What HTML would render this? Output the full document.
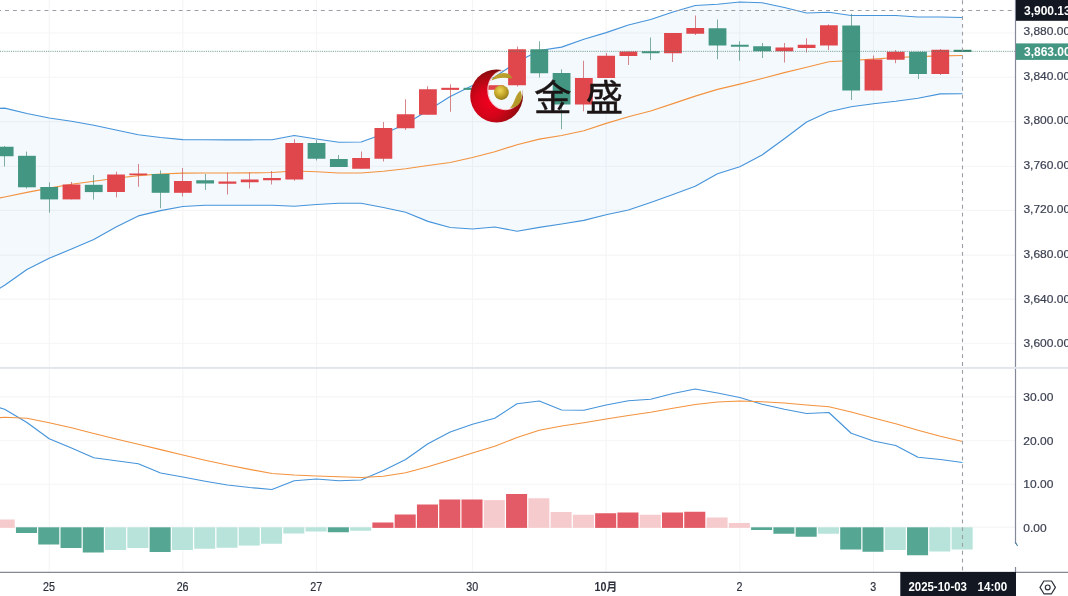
<!DOCTYPE html>
<html lang="zh"><head><meta charset="utf-8"><title>chart</title>
<style>
html,body{margin:0;padding:0;background:#fff;}
body{width:1068px;height:596px;overflow:hidden;position:relative;font-family:"Liberation Sans","Noto Sans CJK SC",sans-serif;}
svg{position:absolute;left:0;top:0;display:block}
text{font-family:"Liberation Sans","Noto Sans CJK SC",sans-serif;}
</style></head><body>
<svg width="1068" height="596" viewBox="0 0 1068 596">
<defs>
<radialGradient id="rg" cx="0.36" cy="0.62" r="0.62"><stop offset="0" stop-color="#f0001e"/><stop offset="0.45" stop-color="#d4041a"/><stop offset="0.85" stop-color="#9c0b10"/><stop offset="1" stop-color="#7d0a0c"/></radialGradient>
<radialGradient id="gg" cx="0.42" cy="0.36" r="0.65"><stop offset="0" stop-color="#ecd75a"/><stop offset="0.5" stop-color="#c9ab2e"/><stop offset="1" stop-color="#947a18"/></radialGradient>
<linearGradient id="gs" x1="0" y1="0" x2="1" y2="1"><stop offset="0" stop-color="#c8ab34"/><stop offset="1" stop-color="#a88f22"/></linearGradient>
<mask id="cm"><rect x="460" y="60" width="80" height="70" fill="#fff"/><ellipse cx="505.3" cy="90" rx="17.2" ry="19.4" fill="#000"/></mask>
<clipPath id="oc"><circle cx="496.6" cy="96" r="26.4"/></clipPath>
<clipPath id="plot"><rect x="0" y="0" width="1015" height="572"/></clipPath>
</defs>
<rect width="1068" height="596" fill="#fff"/>

<g stroke="#f5f5f6" stroke-width="1.1" fill="none">
<line x1="49.2" y1="0" x2="49.2" y2="572"/>
<line x1="182.9" y1="0" x2="182.9" y2="572"/>
<line x1="316.5" y1="0" x2="316.5" y2="572"/>
<line x1="472.5" y1="0" x2="472.5" y2="572"/>
<line x1="606.1" y1="0" x2="606.1" y2="572"/>
<line x1="739.8" y1="0" x2="739.8" y2="572"/>
<line x1="873.5" y1="0" x2="873.5" y2="572"/>
<line x1="0" y1="33" x2="1015" y2="33"/>
<line x1="0" y1="77.3" x2="1015" y2="77.3"/>
<line x1="0" y1="121.6" x2="1015" y2="121.6"/>
<line x1="0" y1="166.3" x2="1015" y2="166.3"/>
<line x1="0" y1="210.4" x2="1015" y2="210.4"/>
<line x1="0" y1="255.1" x2="1015" y2="255.1"/>
<line x1="0" y1="299.1" x2="1015" y2="299.1"/>
<line x1="0" y1="343.2" x2="1015" y2="343.2"/>
<line x1="0" y1="396.9" x2="1015" y2="396.9"/>
<line x1="0" y1="440.7" x2="1015" y2="440.7"/>
<line x1="0" y1="484.2" x2="1015" y2="484.2"/>
</g>
<line x1="0" y1="527.1" x2="1015" y2="527.1" stroke="#f5f5f6" stroke-width="1.1"/>
<polygon points="-17.63,109.30 4.65,108.10 26.93,113.50 49.20,118.00 71.48,121.25 93.76,125.25 116.04,130.00 138.31,134.75 160.59,137.50 182.87,139.60 205.14,139.80 227.42,139.80 249.70,139.80 271.97,139.70 294.25,135.50 316.53,139.00 338.81,142.25 361.08,142.00 383.36,134.00 405.64,124.00 427.91,110.50 450.19,96.50 472.47,85.50 494.74,77.00 517.02,62.00 539.30,50.50 561.58,47.10 583.85,39.20 606.13,32.60 628.41,25.00 650.68,19.50 672.96,12.00 695.24,5.50 717.51,4.25 739.79,2.00 762.07,2.75 784.35,7.50 806.62,13.00 828.90,12.25 851.18,15.50 873.45,15.50 895.73,15.50 918.01,17.00 940.28,17.00 962.56,17.50 962.56,93.70 940.28,93.90 918.01,98.25 895.73,101.25 873.45,103.75 851.18,106.75 828.90,111.75 806.62,122.00 784.35,138.75 762.07,155.00 739.79,166.75 717.51,173.75 695.24,186.25 672.96,194.50 650.68,202.50 628.41,210.00 606.13,214.70 583.85,220.40 561.58,224.00 539.30,227.40 517.02,231.25 494.74,227.00 472.47,229.00 450.19,227.50 427.91,221.40 405.64,212.30 383.36,207.50 361.08,203.25 338.81,203.25 316.53,204.50 294.25,206.25 271.97,205.25 249.70,205.25 227.42,205.25 205.14,205.25 182.87,206.50 160.59,210.60 138.31,215.90 116.04,227.10 93.76,239.50 71.48,249.00 49.20,258.30 26.93,269.50 4.65,285.20 -17.63,299.00" fill="#2f8fe6" fill-opacity="0.055"/>
<polyline points="-17.63,109.30 4.65,108.10 26.93,113.50 49.20,118.00 71.48,121.25 93.76,125.25 116.04,130.00 138.31,134.75 160.59,137.50 182.87,139.60 205.14,139.80 227.42,139.80 249.70,139.80 271.97,139.70 294.25,135.50 316.53,139.00 338.81,142.25 361.08,142.00 383.36,134.00 405.64,124.00 427.91,110.50 450.19,96.50 472.47,85.50 494.74,77.00 517.02,62.00 539.30,50.50 561.58,47.10 583.85,39.20 606.13,32.60 628.41,25.00 650.68,19.50 672.96,12.00 695.24,5.50 717.51,4.25 739.79,2.00 762.07,2.75 784.35,7.50 806.62,13.00 828.90,12.25 851.18,15.50 873.45,15.50 895.73,15.50 918.01,17.00 940.28,17.00 962.56,17.50" fill="none" stroke="#4694da" stroke-width="1.15" stroke-linejoin="round"/>
<polyline points="-17.63,299.00 4.65,285.20 26.93,269.50 49.20,258.30 71.48,249.00 93.76,239.50 116.04,227.10 138.31,215.90 160.59,210.60 182.87,206.50 205.14,205.25 227.42,205.25 249.70,205.25 271.97,205.25 294.25,206.25 316.53,204.50 338.81,203.25 361.08,203.25 383.36,207.50 405.64,212.30 427.91,221.40 450.19,227.50 472.47,229.00 494.74,227.00 517.02,231.25 539.30,227.40 561.58,224.00 583.85,220.40 606.13,214.70 628.41,210.00 650.68,202.50 672.96,194.50 695.24,186.25 717.51,173.75 739.79,166.75 762.07,155.00 784.35,138.75 806.62,122.00 828.90,111.75 851.18,106.75 873.45,103.75 895.73,101.25 918.01,98.25 940.28,93.90 962.56,93.70" fill="none" stroke="#4694da" stroke-width="1.15" stroke-linejoin="round"/>
<polyline points="-17.63,201.50 4.65,197.00 26.93,192.40 49.20,188.10 71.48,184.30 93.76,181.30 116.04,178.30 138.31,175.60 160.59,174.00 182.87,173.10 205.14,172.95 227.42,172.95 249.70,172.90 271.97,172.50 294.25,171.00 316.53,171.75 338.81,173.00 361.08,173.00 383.36,171.25 405.64,168.75 427.91,165.50 450.19,162.50 472.47,157.50 494.74,151.75 517.02,144.75 539.30,139.10 561.58,135.50 583.85,130.75 606.13,123.40 628.41,116.75 650.68,111.00 672.96,103.60 695.24,96.10 717.51,89.40 739.79,84.10 762.07,78.50 784.35,72.60 806.62,67.20 828.90,61.75 851.18,60.50 873.45,59.10 895.73,57.50 918.01,56.60 940.28,55.90 962.56,55.50" fill="none" stroke="#f3933f" stroke-width="1.15" stroke-linejoin="round"/>
<line x1="4.5" y1="146" x2="4.5" y2="166.5" stroke="#4d8f79" stroke-width="1" stroke-opacity="0.7"/>
<rect x="-4.25" y="146.75" width="17.8" height="9.50" fill="#439782"/>
<line x1="26.5" y1="151.6" x2="26.5" y2="188.5" stroke="#4d8f79" stroke-width="1" stroke-opacity="0.7"/>
<rect x="18.03" y="155.8" width="17.8" height="31.50" fill="#439782"/>
<line x1="49.5" y1="182.3" x2="49.5" y2="212.7" stroke="#4d8f79" stroke-width="1" stroke-opacity="0.7"/>
<rect x="40.30" y="187" width="17.8" height="12.40" fill="#439782"/>
<line x1="71.5" y1="182" x2="71.5" y2="199.4" stroke="#c9525a" stroke-width="1" stroke-opacity="0.7"/>
<rect x="62.58" y="184.5" width="17.8" height="14.90" fill="#e0474c"/>
<line x1="93.5" y1="175" x2="93.5" y2="199.6" stroke="#4d8f79" stroke-width="1" stroke-opacity="0.7"/>
<rect x="84.86" y="184.8" width="17.8" height="7.30" fill="#439782"/>
<line x1="116.5" y1="171.7" x2="116.5" y2="197.4" stroke="#c9525a" stroke-width="1" stroke-opacity="0.7"/>
<rect x="107.14" y="174.5" width="17.8" height="17.50" fill="#e0474c"/>
<line x1="138.5" y1="163.9" x2="138.5" y2="186.8" stroke="#c9525a" stroke-width="1" stroke-opacity="0.7"/>
<rect x="129.41" y="173.5" width="17.8" height="1.70" fill="#e0474c"/>
<line x1="160.5" y1="170.4" x2="160.5" y2="208.2" stroke="#4d8f79" stroke-width="1" stroke-opacity="0.7"/>
<rect x="151.69" y="174" width="17.8" height="18.80" fill="#439782"/>
<line x1="182.5" y1="168" x2="182.5" y2="196.4" stroke="#c9525a" stroke-width="1" stroke-opacity="0.7"/>
<rect x="173.97" y="181" width="17.8" height="11.80" fill="#e0474c"/>
<line x1="205.5" y1="174" x2="205.5" y2="190" stroke="#4d8f79" stroke-width="1" stroke-opacity="0.7"/>
<rect x="196.24" y="180.25" width="17.8" height="3.25" fill="#439782"/>
<line x1="227.5" y1="172.5" x2="227.5" y2="194.5" stroke="#c9525a" stroke-width="1" stroke-opacity="0.7"/>
<rect x="218.52" y="181.5" width="17.8" height="2.25" fill="#e0474c"/>
<line x1="249.5" y1="172.5" x2="249.5" y2="188.5" stroke="#c9525a" stroke-width="1" stroke-opacity="0.7"/>
<rect x="240.80" y="179.5" width="17.8" height="2.75" fill="#e0474c"/>
<line x1="271.5" y1="171" x2="271.5" y2="184.5" stroke="#c9525a" stroke-width="1" stroke-opacity="0.7"/>
<rect x="263.07" y="178" width="17.8" height="2.25" fill="#e0474c"/>
<line x1="294.5" y1="139.25" x2="294.5" y2="180.75" stroke="#c9525a" stroke-width="1" stroke-opacity="0.7"/>
<rect x="285.35" y="143" width="17.8" height="36.50" fill="#e0474c"/>
<line x1="316.5" y1="140" x2="316.5" y2="160.5" stroke="#4d8f79" stroke-width="1" stroke-opacity="0.7"/>
<rect x="307.63" y="143" width="17.8" height="15.75" fill="#439782"/>
<line x1="338.5" y1="155" x2="338.5" y2="167" stroke="#4d8f79" stroke-width="1" stroke-opacity="0.7"/>
<rect x="329.91" y="159" width="17.8" height="8.00" fill="#439782"/>
<line x1="361.5" y1="151.5" x2="361.5" y2="168.75" stroke="#c9525a" stroke-width="1" stroke-opacity="0.7"/>
<rect x="352.18" y="158" width="17.8" height="10.75" fill="#e0474c"/>
<line x1="383.5" y1="122" x2="383.5" y2="161.5" stroke="#c9525a" stroke-width="1" stroke-opacity="0.7"/>
<rect x="374.46" y="128" width="17.8" height="30.75" fill="#e0474c"/>
<line x1="405.5" y1="99.25" x2="405.5" y2="130" stroke="#c9525a" stroke-width="1" stroke-opacity="0.7"/>
<rect x="396.74" y="114.25" width="17.8" height="14.00" fill="#e0474c"/>
<line x1="427.5" y1="86.25" x2="427.5" y2="114.75" stroke="#c9525a" stroke-width="1" stroke-opacity="0.7"/>
<rect x="419.01" y="89.25" width="17.8" height="25.50" fill="#e0474c"/>
<line x1="450.5" y1="84.25" x2="450.5" y2="111.75" stroke="#c9525a" stroke-width="1" stroke-opacity="0.7"/>
<rect x="441.29" y="87.8" width="17.8" height="2.10" fill="#e0474c"/>
<rect x="463.57" y="87.8" width="17.8" height="2.10" fill="#439782"/>
<rect x="485.84" y="85.2" width="17.8" height="4.60" fill="#e0474c"/>
<line x1="517.5" y1="46.5" x2="517.5" y2="86.5" stroke="#c9525a" stroke-width="1" stroke-opacity="0.7"/>
<rect x="508.12" y="49.25" width="17.8" height="36.00" fill="#e0474c"/>
<line x1="539.5" y1="41.25" x2="539.5" y2="77.5" stroke="#4d8f79" stroke-width="1" stroke-opacity="0.7"/>
<rect x="530.40" y="49.25" width="17.8" height="24.00" fill="#439782"/>
<line x1="561.5" y1="69.25" x2="561.5" y2="129.25" stroke="#4d8f79" stroke-width="1" stroke-opacity="0.7"/>
<rect x="552.68" y="73" width="17.8" height="31.50" fill="#439782"/>
<line x1="583.5" y1="60.75" x2="583.5" y2="111.25" stroke="#c9525a" stroke-width="1" stroke-opacity="0.7"/>
<rect x="574.95" y="78" width="17.8" height="26.50" fill="#e0474c"/>
<line x1="606.5" y1="53" x2="606.5" y2="78" stroke="#c9525a" stroke-width="1" stroke-opacity="0.7"/>
<rect x="597.23" y="55.75" width="17.8" height="22.25" fill="#e0474c"/>
<line x1="628.5" y1="51.5" x2="628.5" y2="65" stroke="#c9525a" stroke-width="1" stroke-opacity="0.7"/>
<rect x="619.51" y="51.5" width="17.8" height="4.50" fill="#e0474c"/>
<line x1="650.5" y1="37.5" x2="650.5" y2="60" stroke="#4d8f79" stroke-width="1" stroke-opacity="0.7"/>
<rect x="641.78" y="51.25" width="17.8" height="2.00" fill="#439782"/>
<line x1="672.5" y1="33" x2="672.5" y2="62" stroke="#c9525a" stroke-width="1" stroke-opacity="0.7"/>
<rect x="664.06" y="33" width="17.8" height="20.25" fill="#e0474c"/>
<line x1="695.5" y1="15.5" x2="695.5" y2="35" stroke="#c9525a" stroke-width="1" stroke-opacity="0.7"/>
<rect x="686.34" y="28" width="17.8" height="5.75" fill="#e0474c"/>
<line x1="717.5" y1="19.5" x2="717.5" y2="59.25" stroke="#4d8f79" stroke-width="1" stroke-opacity="0.7"/>
<rect x="708.61" y="28.25" width="17.8" height="17.25" fill="#439782"/>
<line x1="739.5" y1="41.25" x2="739.5" y2="60.75" stroke="#4d8f79" stroke-width="1" stroke-opacity="0.7"/>
<rect x="730.89" y="44.75" width="17.8" height="2.00" fill="#439782"/>
<line x1="762.5" y1="43" x2="762.5" y2="58" stroke="#4d8f79" stroke-width="1" stroke-opacity="0.7"/>
<rect x="753.17" y="46.25" width="17.8" height="5.00" fill="#439782"/>
<line x1="784.5" y1="43" x2="784.5" y2="62.5" stroke="#c9525a" stroke-width="1" stroke-opacity="0.7"/>
<rect x="775.45" y="47.5" width="17.8" height="3.75" fill="#e0474c"/>
<line x1="806.5" y1="38.25" x2="806.5" y2="52.5" stroke="#c9525a" stroke-width="1" stroke-opacity="0.7"/>
<rect x="797.72" y="44.75" width="17.8" height="3.25" fill="#e0474c"/>
<line x1="828.5" y1="24.25" x2="828.5" y2="50" stroke="#c9525a" stroke-width="1" stroke-opacity="0.7"/>
<rect x="820.00" y="25.25" width="17.8" height="20.25" fill="#e0474c"/>
<line x1="851.5" y1="13.75" x2="851.5" y2="100" stroke="#4d8f79" stroke-width="1" stroke-opacity="0.7"/>
<rect x="842.28" y="25.5" width="17.8" height="65.00" fill="#439782"/>
<line x1="873.5" y1="55.5" x2="873.5" y2="90.5" stroke="#c9525a" stroke-width="1" stroke-opacity="0.7"/>
<rect x="864.55" y="59.5" width="17.8" height="31.00" fill="#e0474c"/>
<line x1="895.5" y1="50" x2="895.5" y2="63.25" stroke="#c9525a" stroke-width="1" stroke-opacity="0.7"/>
<rect x="886.83" y="51.75" width="17.8" height="8.00" fill="#e0474c"/>
<line x1="918.5" y1="51.75" x2="918.5" y2="79" stroke="#4d8f79" stroke-width="1" stroke-opacity="0.7"/>
<rect x="909.11" y="51.75" width="17.8" height="22.25" fill="#439782"/>
<line x1="940.5" y1="49" x2="940.5" y2="75" stroke="#c9525a" stroke-width="1" stroke-opacity="0.7"/>
<rect x="931.38" y="49.75" width="17.8" height="24.25" fill="#e0474c"/>
<rect x="953.66" y="49.8" width="17.8" height="2.10" fill="#35866f"/>
<line x1="0" y1="51.35" x2="1015" y2="51.35" stroke="#3d7a68" stroke-width="1" stroke-dasharray="1.1 1.09" stroke-opacity="0.7"/>
<rect x="-6.33" y="519.50" width="21.05" height="8.40" fill="#f6cbce"/>
<rect x="15.95" y="527.30" width="21.05" height="5.70" fill="#55a794"/>
<rect x="38.23" y="527.30" width="21.05" height="17.20" fill="#55a794"/>
<rect x="60.51" y="527.30" width="21.05" height="20.70" fill="#55a794"/>
<rect x="82.78" y="527.30" width="21.05" height="25.20" fill="#55a794"/>
<rect x="105.06" y="527.30" width="21.05" height="22.70" fill="#b8e3da"/>
<rect x="127.34" y="527.30" width="21.05" height="20.70" fill="#b8e3da"/>
<rect x="149.61" y="527.30" width="21.05" height="24.70" fill="#55a794"/>
<rect x="171.89" y="527.30" width="21.05" height="22.70" fill="#b8e3da"/>
<rect x="194.17" y="527.30" width="21.05" height="21.45" fill="#b8e3da"/>
<rect x="216.45" y="527.30" width="21.05" height="20.45" fill="#b8e3da"/>
<rect x="238.72" y="527.30" width="21.05" height="18.30" fill="#b8e3da"/>
<rect x="261.00" y="527.30" width="21.05" height="16.45" fill="#b8e3da"/>
<rect x="283.28" y="527.30" width="21.05" height="6.20" fill="#b8e3da"/>
<rect x="305.55" y="527.30" width="21.05" height="4.20" fill="#b8e3da"/>
<rect x="327.83" y="527.30" width="21.05" height="4.95" fill="#55a794"/>
<rect x="350.11" y="527.30" width="21.05" height="3.45" fill="#b8e3da"/>
<rect x="372.38" y="522.50" width="21.05" height="5.40" fill="#e35b66"/>
<rect x="394.66" y="514.50" width="21.05" height="13.40" fill="#e35b66"/>
<rect x="416.94" y="504.50" width="21.05" height="23.40" fill="#e35b66"/>
<rect x="439.22" y="499.50" width="21.05" height="28.40" fill="#e35b66"/>
<rect x="461.49" y="499.50" width="21.05" height="28.40" fill="#e35b66"/>
<rect x="483.77" y="500.10" width="21.05" height="27.80" fill="#f6cbce"/>
<rect x="506.05" y="494.00" width="21.05" height="33.90" fill="#e35b66"/>
<rect x="528.32" y="498.25" width="21.05" height="29.65" fill="#f6cbce"/>
<rect x="550.60" y="512.00" width="21.05" height="15.90" fill="#f6cbce"/>
<rect x="572.88" y="514.75" width="21.05" height="13.15" fill="#f6cbce"/>
<rect x="595.15" y="513.25" width="21.05" height="14.65" fill="#e35b66"/>
<rect x="617.43" y="512.50" width="21.05" height="15.40" fill="#e35b66"/>
<rect x="639.71" y="514.75" width="21.05" height="13.15" fill="#f6cbce"/>
<rect x="661.99" y="512.50" width="21.05" height="15.40" fill="#e35b66"/>
<rect x="684.26" y="511.75" width="21.05" height="16.15" fill="#e35b66"/>
<rect x="706.54" y="517.50" width="21.05" height="10.40" fill="#f6cbce"/>
<rect x="728.82" y="523.00" width="21.05" height="4.90" fill="#f6cbce"/>
<rect x="751.09" y="527.30" width="21.05" height="2.70" fill="#55a794"/>
<rect x="773.37" y="527.30" width="21.05" height="6.45" fill="#55a794"/>
<rect x="795.65" y="527.30" width="21.05" height="9.45" fill="#55a794"/>
<rect x="817.92" y="527.30" width="21.05" height="6.45" fill="#b8e3da"/>
<rect x="840.20" y="527.30" width="21.05" height="22.20" fill="#55a794"/>
<rect x="862.48" y="527.30" width="21.05" height="24.45" fill="#55a794"/>
<rect x="884.75" y="527.30" width="21.05" height="22.70" fill="#b8e3da"/>
<rect x="907.03" y="527.30" width="21.05" height="27.95" fill="#55a794"/>
<rect x="929.31" y="527.30" width="21.05" height="24.20" fill="#b8e3da"/>
<rect x="951.59" y="527.30" width="21.05" height="22.20" fill="#b8e3da"/>
<polyline points="-17.63,403.00 4.65,409.25 26.93,422.50 49.20,438.75 71.48,448.00 93.76,457.75 116.04,460.75 138.31,463.75 160.59,473.00 182.87,477.00 205.14,481.25 227.42,485.00 249.70,487.50 271.97,489.50 294.25,480.75 316.53,479.00 338.81,480.75 361.08,480.00 383.36,470.50 405.64,459.50 427.91,443.75 450.19,432.00 472.47,424.25 494.74,418.25 517.02,403.75 539.30,401.00 561.58,410.00 583.85,410.25 606.13,405.00 628.41,400.75 650.68,399.25 672.96,393.50 695.24,389.00 717.51,393.00 739.79,397.50 762.07,404.25 784.35,409.25 806.62,413.50 828.90,412.50 851.18,433.25 873.45,441.00 895.73,445.50 918.01,457.25 940.28,459.50 962.56,462.50" fill="none" stroke="#4694da" stroke-width="1.15" stroke-linejoin="round"/>
<polyline points="-17.63,419.50 4.65,417.20 26.93,418.25 49.20,422.75 71.48,427.75 93.76,433.50 116.04,439.00 138.31,444.20 160.59,449.60 182.87,455.00 205.14,460.25 227.42,465.00 249.70,469.40 271.97,473.50 294.25,475.00 316.53,476.00 338.81,476.75 361.08,477.50 383.36,476.25 405.64,472.75 427.91,466.75 450.19,460.00 472.47,453.00 494.74,446.25 517.02,437.50 539.30,430.25 561.58,426.00 583.85,422.75 606.13,419.00 628.41,415.50 650.68,412.25 672.96,408.25 695.24,404.50 717.51,402.00 739.79,401.00 762.07,401.75 784.35,403.00 806.62,405.00 828.90,406.75 851.18,412.00 873.45,418.00 895.73,423.75 918.01,430.25 940.28,436.25 962.56,441.50" fill="none" stroke="#f3933f" stroke-width="1.15" stroke-linejoin="round"/>
<line x1="-2.865" y1="10.45" x2="1015" y2="10.45" stroke="#9a9da6" stroke-width="1.1" stroke-dasharray="3.9 3.995"/>
<line x1="962.5" y1="0.3" x2="962.5" y2="572" stroke="#9a9da6" stroke-width="1.1" stroke-dasharray="3.85 4.015"/>
<g>
<circle cx="496.6" cy="96" r="26.4" fill="url(#rg)" mask="url(#cm)"/>
<ellipse cx="505.3" cy="90" rx="17.5" ry="19.7" fill="none" stroke="#fff" stroke-opacity="0.75" stroke-width="1.1" clip-path="url(#oc)"/>
<circle cx="501.4" cy="92.6" r="7.4" fill="url(#gg)"/>
<path d="M491.3 80.6 C493.5 76.5 498 73.3 503.9 73 C508 72.9 511 75.4 512.4 78.6 C509.5 78.3 507 77.7 503.9 77.7 C499 77.7 495 78.9 491.3 80.6 Z" fill="url(#gs)"/>
<path d="M520.3 90.5 C522.6 95 522.1 100.5 519.1 104.1 C516.9 106.6 513.5 107.9 510.1 108.1 C512.7 105 513.7 102.5 514.7 99.8 C515.9 96.5 517.4 93.5 520.3 90.5 Z" fill="url(#gs)"/>
<text transform="translate(534,110.6) scale(1,0.965)" font-size="37.6" font-weight="400" fill="#1c1515" stroke="#1c1515" stroke-width="0.45" style="font-family:'Liberation Sans','Noto Sans CJK SC',sans-serif">金</text>
<text transform="translate(585.5,110.6) scale(1,0.965)" font-size="37.6" font-weight="400" fill="#1c1515" stroke="#1c1515" stroke-width="0.45" style="font-family:'Liberation Sans','Noto Sans CJK SC',sans-serif">盛</text>
</g>
<line x1="1015.5" y1="0" x2="1015.5" y2="543.8" stroke="#858999" stroke-width="1.2"/>
<path d="M1015.7 542.8 L1017.3 545.6" stroke="#3f7f9c" stroke-width="1.1" fill="none" stroke-linecap="round"/>
<line x1="1015.5" y1="567" x2="1015.5" y2="572" stroke="#858999" stroke-width="1.2"/>
<rect x="0" y="366.9" width="1068" height="2" fill="#e3e5ed"/>
<line x1="0" y1="572.3" x2="1068" y2="572.3" stroke="#858894" stroke-width="1.3"/>
<g font-size="11.6" fill="#3a3f50" stroke="#3a3f50" stroke-width="0.2">
<text transform="translate(1023.4,35.3) scale(1.035,1)">3,880.00</text>
<text transform="translate(1023.4,79.8) scale(1.035,1)">3,840.00</text>
<text transform="translate(1023.4,124.3) scale(1.035,1)">3,800.00</text>
<text transform="translate(1023.4,168.9) scale(1.035,1)">3,760.00</text>
<text transform="translate(1023.4,213.4) scale(1.035,1)">3,720.00</text>
<text transform="translate(1023.4,257.9) scale(1.035,1)">3,680.00</text>
<text transform="translate(1023.4,302.5) scale(1.035,1)">3,640.00</text>
<text transform="translate(1023.4,347) scale(1.035,1)">3,600.00</text>
<text transform="translate(1023.3,401) scale(1.035,1)">30.00</text>
<text transform="translate(1023.3,444.7) scale(1.035,1)">20.00</text>
<text transform="translate(1023.3,488.2) scale(1.035,1)">10.00</text>
<text transform="translate(1023.3,531.7) scale(1.035,1)">0.00</text>
</g>
<rect x="1016" y="0" width="52" height="20.8" fill="#131722"/>
<text x="1024" y="14.8" font-size="12" font-weight="700" fill="#fff">3,900.13</text>
<rect x="1016" y="43.4" width="52" height="16.5" fill="#439782"/>
<text x="1024" y="55.9" font-size="12" font-weight="700" fill="#fff">3,863.00</text>
<g font-size="11.9" fill="#2d313d" stroke="#2d313d" stroke-width="0.2" text-anchor="middle">
<text transform="translate(48.9,590.55) scale(0.9,1)">25</text>
<text transform="translate(182.6,590.55) scale(0.9,1)">26</text>
<text transform="translate(316.2,590.55) scale(0.9,1)">27</text>
<text transform="translate(472.2,590.55) scale(0.9,1)">30</text>
<text transform="translate(605.8,590.55) scale(0.9,1)" font-weight="700" stroke="none">10月</text>
<text transform="translate(739.5,590.55) scale(0.9,1)">2</text>
<text transform="translate(873.2,590.55) scale(0.9,1)">3</text>
</g>
<rect x="900.3" y="572" width="115.7" height="24" fill="#131722"/>
<text x="908.4" y="590.7" font-size="12" font-weight="700" fill="#fff" textLength="58.6" lengthAdjust="spacingAndGlyphs">2025-10-03</text>
<text x="977.6" y="590.7" font-size="12" font-weight="700" fill="#fff" textLength="29.6" lengthAdjust="spacingAndGlyphs">14:00</text>
<g fill="none" stroke="#2a2e39" stroke-width="1.2"><path d="M1040 587.4 L1043.9 581 L1051.5 581 L1055.4 587.4 L1051.5 593.8 L1043.9 593.8 Z" stroke-linejoin="round"/><circle cx="1047.7" cy="587.4" r="2.4"/></g>
</svg></body></html>
